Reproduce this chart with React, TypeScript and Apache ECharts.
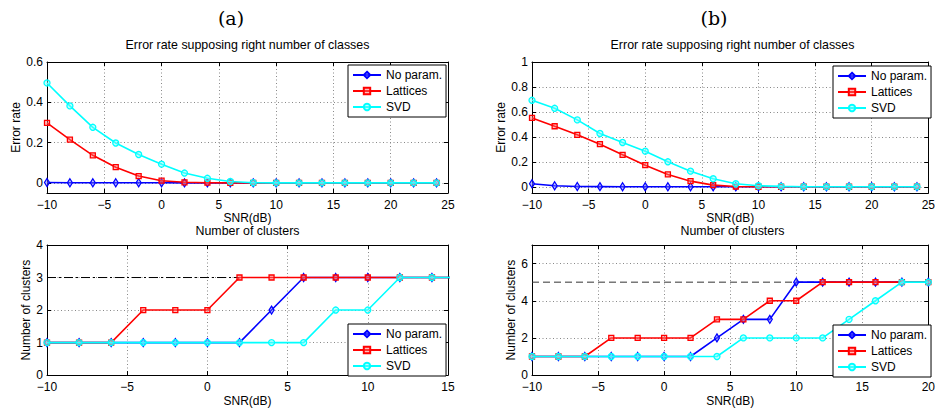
import React, { useEffect, useRef } from "react";
import * as echarts from "echarts";

// ---------- data ----------
const seriesNames = ["No param.", "Lattices", "SVD"];

const snrErr = [-10, -8, -6, -4, -2, 0, 2, 4, 6, 8, 10, 12, 14, 16, 18, 20, 22, 24];
const errA_noParam = [0.002, 0.001, 0.001, 0.001, 0.001, 0.001, 0, 0, 0, 0, 0, 0, 0, 0, 0, 0, 0, 0];
const errA_lattices = [0.298, 0.215, 0.137, 0.078, 0.034, 0.011, 0.003, 0.001, 0, 0, 0, 0, 0, 0, 0, 0, 0, 0];
const errA_svd = [0.496, 0.382, 0.276, 0.198, 0.141, 0.093, 0.049, 0.023, 0.007, 0.001, 0, 0, 0, 0, 0, 0, 0, 0];

const errB_noParam = [0.024, 0.008, 0.002, 0.001, 0, 0, 0, 0, 0, 0, 0, 0, 0, 0, 0, 0, 0, 0];
const errB_lattices = [0.552, 0.485, 0.416, 0.341, 0.256, 0.173, 0.099, 0.045, 0.013, 0.002, 0, 0, 0, 0, 0, 0, 0, 0];
const errB_svd = [0.693, 0.629, 0.536, 0.427, 0.355, 0.285, 0.2, 0.125, 0.064, 0.024, 0.008, 0.003, 0, 0, 0, 0, 0, 0];

const snrClA = [-10, -8, -6, -4, -2, 0, 2, 4, 6, 8, 10, 12, 14, 16];
const clA_noParam = [1, 1, 1, 1, 1, 1, 1, 2, 3, 3, 3, 3, 3, 3];
const clA_lattices = [1, 1, 1, 2, 2, 2, 3, 3, 3, 3, 3, 3, 3, 3];
const clA_svd = [1, 1, 1, 1, 1, 1, 1, 1, 1, 2, 2, 3, 3, 3];
const trueClustersA = 3;

const snrClB = [-10, -8, -6, -4, -2, 0, 2, 4, 6, 8, 10, 12, 14, 16, 18, 20];
const clB_noParam = [1, 1, 1, 1, 1, 1, 1, 2, 3, 3, 5, 5, 5, 5, 5, 5];
const clB_lattices = [1, 1, 1, 2, 2, 2, 2, 3, 3, 4, 4, 5, 5, 5, 5, 5];
const clB_svd = [1, 1, 1, 1, 1, 1, 1, 1, 2, 2, 2, 2, 3, 4, 5, 5];
const trueClustersB = 5;

const xTicksErr = [-10, -5, 0, 5, 10, 15, 20, 25];
const yTicksErrA = [0, 0.2, 0.4, 0.6];
const yTicksErrB = [0, 0.2, 0.4, 0.6, 0.8, 1];
const xTicksClA = [-10, -5, 0, 5, 10, 15];
const yTicksClA = [0, 1, 2, 3, 4];
const xTicksClB = [-10, -5, 0, 5, 10, 15, 20];
const yTicksClB = [0, 2, 4, 6];

const panelLabels = ["(a)", "(b)"];
const titleErr = "Error rate supposing right number of classes";
const titleCl = "Number of clusters";
const xName = "SNR(dB)";
const yNameErr = "Error rate";
const yNameCl = "Number of clusters";

// ---------- styling ----------
const FONT = "Liberation Sans, Arial, Helvetica, sans-serif";
const colors = ["#0000ff", "#ff0000", "#00ffff"];
const fills = ["rgba(110,110,255,0.45)", "rgba(255,110,110,0.45)", "rgba(120,255,255,0.45)"];
const symbols = ["diamond", "rect", "circle"];
const symbolSizes: any[] = [[5, 8], 5, 6];

const fmt = (v: number) => {
  const s = String(Math.round(v * 1000) / 1000);
  return s.replace("-", "\u2212");
};

function pair(xs: number[], ys: number[]) {
  return xs.map((x, i) => [x, ys[i]]);
}

export default function App() {
  const ref = useRef<HTMLDivElement>(null);
  useEffect(() => {
    document.body.style.margin = "0";
    if (!ref.current) return;
    const chart = echarts.init(ref.current, null, { renderer: "svg" });

    const panels = [
      { left: 47, top: 62, width: 401, height: 131, xmin: -10, xmax: 25, ymin: -0.05, ymax: 0.6, xt: xTicksErr, yt: yTicksErrA, xs: snrErr, ys: [errA_noParam, errA_lattices, errA_svd], ref: null as any, yName: yNameErr, yGap: 20, title: titleErr, legendTop: 65 },
      { left: 47, top: 245, width: 401, height: 133, xmin: -10, xmax: 15, ymin: 0, ymax: 4, xt: xTicksClA, yt: yTicksClA, xs: snrClA, ys: [clA_noParam, clA_lattices, clA_svd], ref: { v: trueClustersA, type: [9, 3, 2, 3], color: "#000" }, yName: yNameCl, yGap: 14, title: titleCl, legendTop: 324 },
      { left: 532, top: 62, width: 401, height: 131, xmin: -10, xmax: 25, ymin: -0.05, ymax: 1, xt: xTicksErr, yt: yTicksErrB, xs: snrErr, ys: [errB_noParam, errB_lattices, errB_svd], ref: null as any, yName: yNameErr, yGap: 24, title: titleErr, legendTop: 66 },
      { left: 532, top: 245, width: 401, height: 133, xmin: -10, xmax: 20, ymin: 0, ymax: 7, xt: xTicksClB, yt: yTicksClB, xs: snrClB, ys: [clB_noParam, clB_lattices, clB_svd], ref: { v: trueClustersB, type: [7, 4], color: "#333" }, yName: yNameCl, yGap: 14, title: titleCl, legendTop: 325 },
    ];

    const grid: any[] = [];
    const xAxis: any[] = [];
    const yAxis: any[] = [];
    const series: any[] = [];
    const legend: any[] = [];
    const title: any[] = [];

    const gridLine = { show: true, lineStyle: { color: "#888", type: [1, 2.5], width: 1 } };

    panels.forEach((p, i) => {
      grid.push({ left: p.left, top: p.top, width: p.width, height: p.height, containLabel: false });
      const base = {
        gridIndex: i,
        type: "value",
        axisLine: { show: true, onZero: false, lineStyle: { color: "#000", width: 1 } },
      };
      xAxis.push({
        ...base,
        position: "bottom",
        min: p.xmin,
        max: p.xmax,
        axisTick: { show: true, inside: true, length: 4, customValues: p.xt, lineStyle: { color: "#000" } },
        axisLabel: { show: true, customValues: p.xt, formatter: fmt, fontSize: 12, fontFamily: FONT, color: "#000", margin: 6, showMaxLabel: true, showMinLabel: true, hideOverlap: false },
        splitLine: { ...gridLine },
        name: xName,
        nameLocation: "middle",
        nameGap: 13,
        nameTextStyle: { fontSize: 12, fontFamily: FONT, color: "#000", lineHeight: 13 },
      });
      xAxis.push({
        ...base,
        position: "top",
        min: p.xmin,
        max: p.xmax,
        axisTick: { show: true, inside: true, length: 4, customValues: p.xt, lineStyle: { color: "#000" } },
        axisLabel: { show: false },
        splitLine: { show: false },
      });
      yAxis.push({
        ...base,
        position: "left",
        min: p.ymin,
        max: p.ymax,
        axisTick: { show: true, inside: true, length: 4, customValues: p.yt, lineStyle: { color: "#000" } },
        axisLabel: { show: true, customValues: p.yt, formatter: fmt, fontSize: 12, fontFamily: FONT, color: "#000", margin: 4, showMaxLabel: true, showMinLabel: true },
        splitLine: { ...gridLine },
        name: p.yName,
        nameLocation: "middle",
        nameGap: p.yGap,
        nameRotate: 90,
        nameTextStyle: { fontSize: 12, fontFamily: FONT, color: "#000" },
      });
      yAxis.push({
        ...base,
        position: "right",
        min: p.ymin,
        max: p.ymax,
        axisTick: { show: true, inside: true, length: 4, customValues: p.yt, lineStyle: { color: "#000" } },
        axisLabel: { show: false },
        splitLine: { show: false },
      });

      if (p.ref) {
        series.push({
          name: "true number",
          type: "line",
          xAxisIndex: 2 * i,
          yAxisIndex: 2 * i,
          data: [[p.xmin, p.ref.v], [p.xmax, p.ref.v]],
          symbol: "none",
          silent: true,
          lineStyle: { color: p.ref.color, width: 1, type: p.ref.type },
          z: 1,
        });
      }

      p.ys.forEach((ys, k) => {
        series.push({
          name: seriesNames[k],
          type: "line",
          xAxisIndex: 2 * i,
          yAxisIndex: 2 * i,
          data: pair(p.xs, ys),
          symbol: symbols[k],
          symbolSize: symbolSizes[k],
          showAllSymbol: true,
          clip: true,
          lineStyle: { color: colors[k], width: 1.6 },
          itemStyle: { color: fills[k], borderColor: colors[k], borderWidth: 1.3 },
          emphasis: { disabled: true },
          z: 2 + k,
        });
      });

      legend.push({
        data: seriesNames,
        orient: "vertical",
        left: p.left + 301,
        top: p.legendTop,
        backgroundColor: "#fff",
        borderColor: "#000",
        borderWidth: 1,
        padding: [3, 4, 3, 4],
        itemGap: 2,
        itemWidth: 28,
        itemHeight: 8,
        selectedMode: false,
        textStyle: { fontSize: 12, fontFamily: FONT, color: "#000", lineHeight: 14 },
        z: 10,
      });

      title.push({
        text: p.title,
        left: p.left + p.width / 2,
        top: p.top - 24 + (i % 2 === 1 ? 3 : 0),
        textAlign: "center",
        textStyle: { fontSize: 12.4, fontFamily: FONT, color: "#000", fontWeight: "normal", lineHeight: 13 },
        padding: 0,
      });
    });

    title.push({
      text: panelLabels[0],
      left: 231,
      top: 8,
      textAlign: "center",
      padding: 0,
      textStyle: { fontSize: 19, fontFamily: "DejaVu Serif, Liberation Serif, serif", color: "#000", fontWeight: "normal" },
    });
    title.push({
      text: panelLabels[1],
      left: 714,
      top: 8,
      textAlign: "center",
      padding: 0,
      textStyle: { fontSize: 19, fontFamily: "DejaVu Serif, Liberation Serif, serif", color: "#000", fontWeight: "normal" },
    });

    chart.setOption({
      animation: false,
      backgroundColor: "#fff",
      title,
      grid,
      xAxis,
      yAxis,
      legend,
      series,
    });
    return () => chart.dispose();
  }, []);
  return <div ref={ref} style={{ width: 938, height: 408 }} />;
}
